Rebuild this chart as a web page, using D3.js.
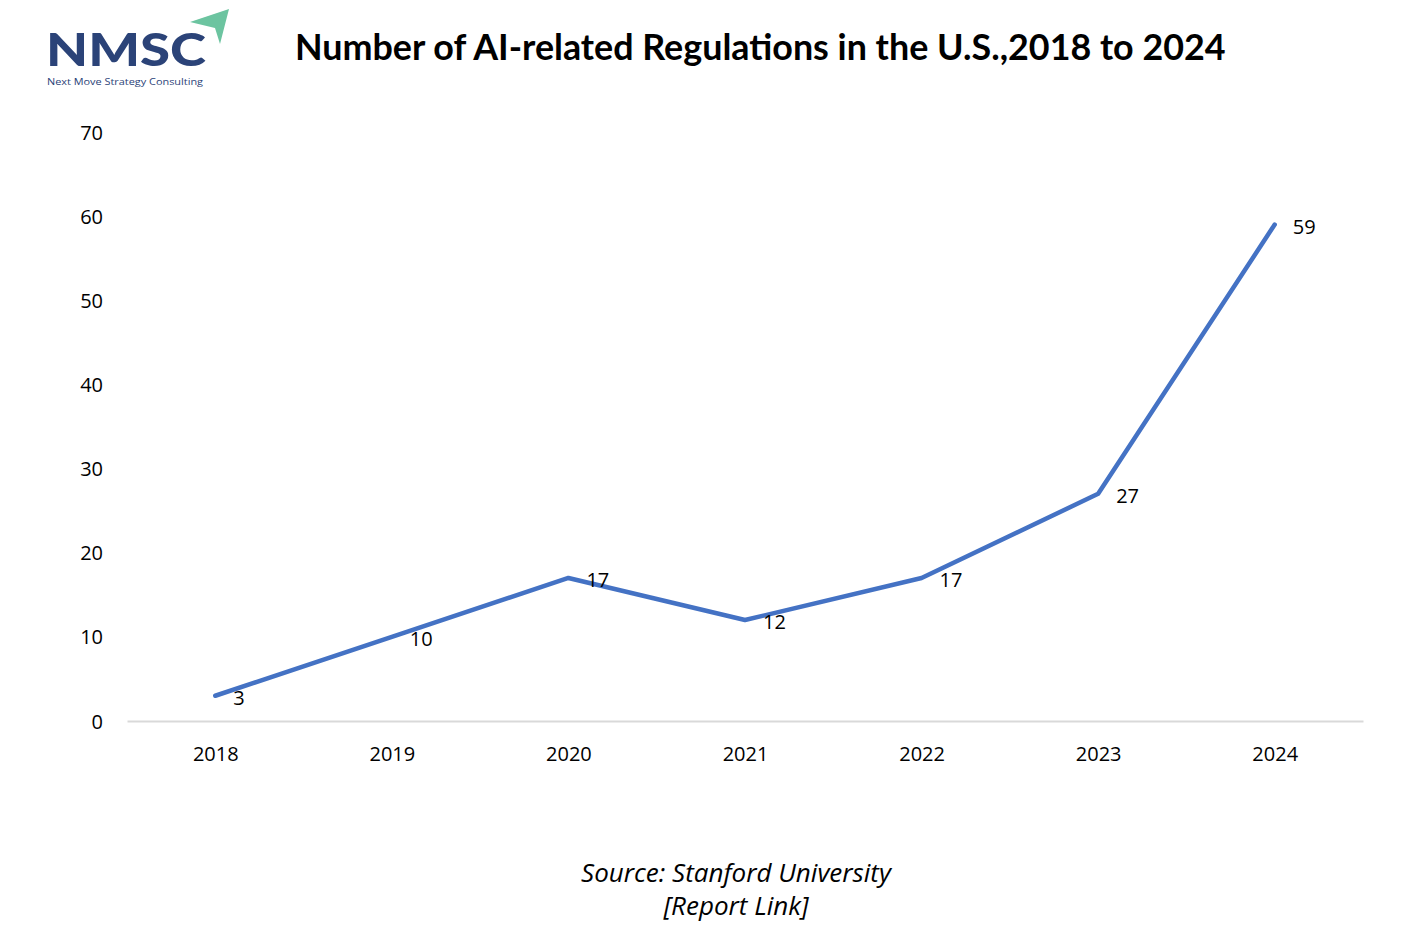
<!DOCTYPE html>
<html><head><meta charset="utf-8">
<script src="https://cdn.jsdelivr.net/npm/d3@7/dist/d3.min.js"></script>
<style>body{margin:0;background:#fff;}svg{display:block;}</style>
</head><body>
<svg id="c" width="1426" height="939"></svg>
<script>
const years = ["2018","2019","2020","2021","2022","2023","2024"];
const values = [3,10,17,12,17,27,59];
const yTicks = [0,10,20,30,40,50,60,70];
const titleText = "Number of AI-related Regulations in the U.S.,2018 to 2024";
const sourceLines = ["Source: Stanford University","[Report Link]"];

const svg = d3.select("#c");
const W = 1426, H = 939;
svg.append("rect").attr("width",W).attr("height",H).attr("fill","#fff");

const x = d3.scalePoint().domain(years).range([127,1363]).padding(0.5);
const y = d3.scaleLinear().domain([0,70]).range([721,132]);

// title
const title = svg.append("text").attr("x",295).attr("y",60)
  .attr("font-family","Lato, 'Open Sans', sans-serif").attr("font-weight","bold")
  .attr("font-size",34).attr("fill","#000").text(titleText);
const tl = title.node().getComputedTextLength();
title.attr("font-size", 34*931/tl);

// logo
const logo = svg.append("g");
logo.append("text").attr("x",46).attr("y",66).attr("font-family","Lato, 'Open Sans', sans-serif")
  .attr("font-weight","900").attr("font-size",46).attr("fill","#2b4378")
  .attr("textLength",160).attr("lengthAdjust","spacingAndGlyphs")
  .text("NMSC");
logo.append("path").attr("d","M190,22 L229,9 L220,44 L215,28 Z").attr("fill","#6cc4a0");
logo.append("text").attr("x",47).attr("y",85).attr("font-family","'Open Sans', sans-serif")
  .attr("font-size",9).attr("fill","#2b4378")
  .attr("textLength",156).attr("lengthAdjust","spacingAndGlyphs")
  .text("Next Move Strategy Consulting");

// y axis labels
const yAxis = d3.axisLeft(y).tickValues(yTicks).tickSize(0).tickPadding(0);
const yg = svg.append("g").attr("transform","translate(103,0)").call(yAxis);
yg.select(".domain").remove();
yg.selectAll("text").attr("font-family","'Open Sans', sans-serif").attr("font-size",20).attr("fill","#000").attr("dy","0.35em");

// x axis
const xAxis = d3.axisBottom(x).tickSize(0).tickPadding(26);
const xg = svg.append("g").attr("transform","translate(0,721)").call(xAxis);
xg.select(".domain").attr("stroke","#d9d9d9").attr("stroke-width",2);
xg.selectAll("text").attr("font-family","'Open Sans', sans-serif").attr("font-size",20).attr("fill","#000");

// line
const data = years.map((yr,i)=>({yr, v:values[i]}));
const line = d3.line().x(d=>x(d.yr)).y(d=>y(d.v));
svg.append("path").datum(data).attr("d",line).attr("fill","none")
  .attr("stroke","#4472c4").attr("stroke-width",4.5).attr("stroke-linejoin","round").attr("stroke-linecap","round");

// labels
svg.append("g").selectAll("text").data(data).join("text")
  .attr("x",d=>x(d.yr)+18).attr("y",d=>y(d.v)+2).attr("dy","0.35em")
  .attr("font-family","'Open Sans', sans-serif").attr("font-size",20).attr("fill","#000")
  .text(d=>d.v);

// source
svg.append("g").selectAll("text").data(sourceLines).join("text")
  .attr("x",736).attr("y",(d,i)=>882+i*33).attr("text-anchor","middle")
  .attr("font-family","'Open Sans', sans-serif").attr("font-style","italic").attr("font-size",26).attr("fill","#000")
  .text(d=>d);
</script>
</body></html>
